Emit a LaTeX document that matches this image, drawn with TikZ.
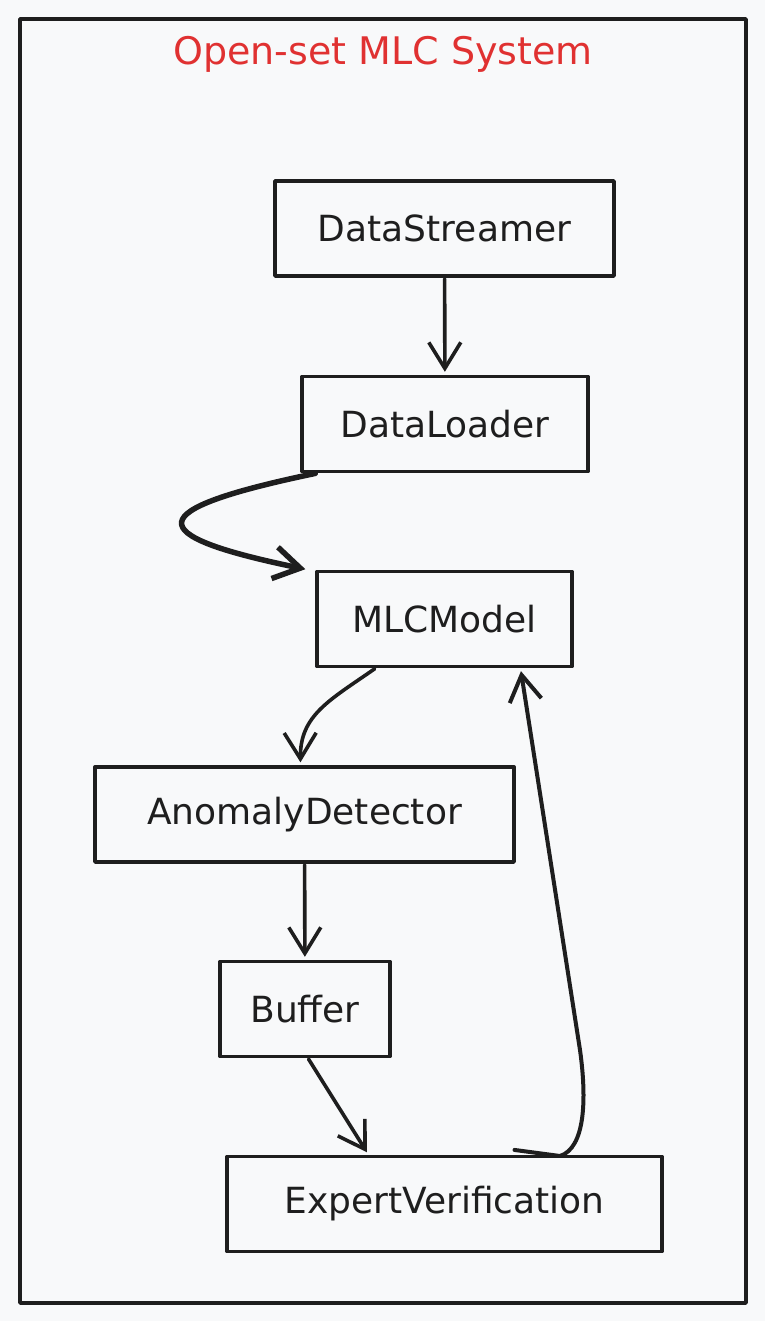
\documentclass[tikz,border=0pt]{standalone}
\usepackage{fontspec}
\setmainfont{DejaVu Sans}
\usetikzlibrary{arrows.meta,calc}

\definecolor{paper}{HTML}{F8F9FA}
\definecolor{ink}{HTML}{1E1E1E}
\definecolor{titlered}{HTML}{E03131}

\begin{document}
\begin{tikzpicture}[x=1pt,y=-1pt,->,>={Straight Barb[length=26pt,width=32pt]},line width=3.6pt,line cap=round,line join=round,draw=ink,
  block/.style={draw=ink,line width=3.4pt,minimum height=95pt,inner sep=0pt,text=ink,font=\fontsize{36}{42}\selectfont},
  flow/.style={draw=ink,shorten >=3pt,shorten <=1pt}]
\useasboundingbox[fill=paper] (0,0) rectangle (765,1321);
\draw[-,ink,line width=3.4pt] (20,19) rectangle (746,1303);
\node[text=titlered,font=\fontsize{38}{44}\selectfont] (title) at (383,54) {Open-set MLC System};

\node[block,minimum width=339pt] (streamer) at (444.5,228.5) {DataStreamer};
\node[block,minimum width=286pt] (loader) at (445,424) {DataLoader};
\node[block,minimum width=255pt] (mlc) at (444.5,619) {MLCModel};
\node[block,minimum width=419pt] (anomaly) at (304.5,814.5) {AnomalyDetector};
\node[block,minimum width=170pt] (buffer) at (305,1009) {Buffer};
\node[block,minimum width=435pt] (expert) at (444.5,1204) {ExpertVerification};

\path[flow] (streamer) edge (loader);
\draw[flow,line width=5.5pt] ([xshift=16pt]loader.south west) .. controls (140,510) and (140,535) .. ([xshift=-7pt]mlc.north west);
\draw[flow] ([xshift=-69pt]mlc.south) .. controls (330,700) and (300,715) .. ([xshift=-4pt]anomaly.north);
\path[flow] (anomaly) edge (buffer);
\draw[flow] ([xshift=3pt]buffer.south) -- ([xshift=-76pt]expert.north);
\draw[flow,line width=4pt] ([xshift=69pt,yshift=5pt]expert.north) -- (560,1156) .. controls (585,1148) and (587,1100) .. (580,1050) -- ([xshift=76pt]mlc.south);
\end{tikzpicture}
\end{document}
